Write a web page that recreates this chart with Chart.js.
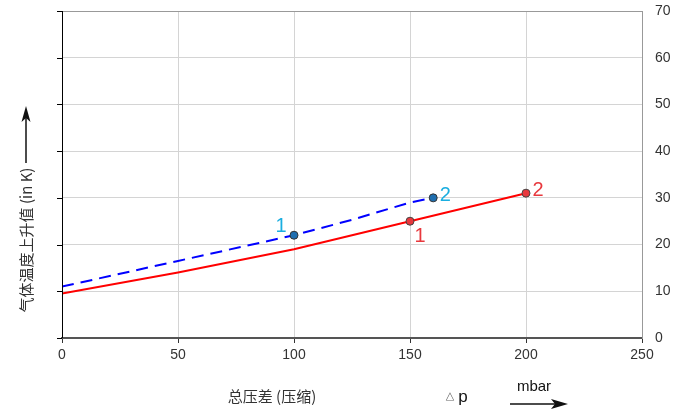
<!DOCTYPE html>
<html>
<head>
<meta charset="utf-8">
<script src="https://cdn.jsdelivr.net/npm/chart.js@4/dist/chart.umd.min.js"></script>
<style>
  html, body { margin: 0; padding: 0; background: #fff; }
  #wrap { width: 685px; height: 417px; position: relative; }
</style>
</head>
<body>
<div id="wrap"><canvas id="canvas"></canvas></div>
<script>
'use strict';

// pressure difference (mbar) and temperature rise (K)
const redX = [0, 50, 100, 150, 200];
const redY = [9.5, 14, 19, 25, 31];
const redMarked = [150, 200];

const blueX = [0, 50, 100, 125, 150, 160];
const blueY = [11, 16.5, 22, 25.3, 29, 30];
const blueMarked = [100, 160];

const xTicks = [0, 50, 100, 150, 200, 250];
const yTicks = [0, 10, 20, 30, 40, 50, 60, 70];

const toPoints = (xs, ys) => xs.map((x, i) => ({ x: x, y: ys[i] }));
const radii = (xs, marked) => xs.map(x => (marked.includes(x) ? 4 : 0));

// point numbers, placed next to marked points
const pointLabels = [
  { x: 150, y: 25, text: '1', color: '#e8383d', dx: 10, dy: 15 },
  { x: 200, y: 31, text: '2', color: '#e8383d', dx: 12, dy: -3 },
  { x: 100, y: 22, text: '1', color: '#1aaee0', dx: -13, dy: -9 },
  { x: 160, y: 30, text: '2', color: '#1aaee0', dx: 12, dy: -2 },
];

const extras = {
  id: 'extras',
  afterDatasetsDraw(chart) {
    const ctx = chart.ctx;
    const xs = chart.scales.x;
    const ys = chart.scales.y;
    const a = chart.chartArea;
    ctx.save();
    // numbers beside points
    ctx.font = '20px "Liberation Sans", Arial, sans-serif';
    ctx.textAlign = 'center';
    ctx.textBaseline = 'middle';
    pointLabels.forEach(l => {
      ctx.fillStyle = l.color;
      ctx.fillText(l.text, xs.getPixelForValue(l.x) + l.dx, ys.getPixelForValue(l.y) + l.dy);
    });
    // top border
    ctx.strokeStyle = '#999';
    ctx.lineWidth = 1;
    ctx.beginPath();
    ctx.moveTo(a.left, a.top + 0.5);
    ctx.lineTo(a.right, a.top + 0.5);
    ctx.stroke();
    // left axis with outward ticks
    ctx.strokeStyle = '#000';
    ctx.beginPath();
    ctx.moveTo(a.left + 0.5, a.top);
    ctx.lineTo(a.left + 0.5, a.bottom);
    yTicks.forEach(v => {
      const py = Math.round(ys.getPixelForValue(v)) + 0.5;
      ctx.moveTo(a.left - 5, py);
      ctx.lineTo(a.left, py);
    });
    ctx.stroke();
    ctx.restore();
  },
  afterDraw(chart) {
    const ctx = chart.ctx;
    ctx.save();
    ctx.fillStyle = '#333';
    ctx.textBaseline = 'middle';
    // y title, rotated
    ctx.save();
    ctx.translate(26, 240);
    ctx.rotate(-Math.PI / 2);
    ctx.font = '15px "Noto Sans CJK SC", sans-serif';
    ctx.textAlign = 'center';
    ctx.fillText('气体温度上升值 (in K)', 0, 0);
    ctx.restore();
    // y arrow
    ctx.strokeStyle = '#111';
    ctx.fillStyle = '#111';
    ctx.lineWidth = 1.5;
    ctx.beginPath();
    ctx.moveTo(26, 163);
    ctx.lineTo(26, 112);
    ctx.stroke();
    ctx.beginPath();
    ctx.moveTo(26, 106);
    ctx.lineTo(21.5, 122);
    ctx.lineTo(26, 118);
    ctx.lineTo(30.5, 122);
    ctx.closePath();
    ctx.fill();
    // x title
    ctx.fillStyle = '#333';
    ctx.textAlign = 'center';
    ctx.font = '15px "Noto Sans CJK SC", sans-serif';
    ctx.fillText('总压差 (压缩)', 272, 396);
    ctx.font = '11px "DejaVu Sans", sans-serif';
    ctx.fillStyle = '#666';
    ctx.fillText('△', 450, 396);
    ctx.fillStyle = '#111';
    ctx.font = '17px "Liberation Sans", Arial, sans-serif';
    ctx.fillText('p', 463, 397);
    ctx.font = '15px "Liberation Sans", Arial, sans-serif';
    ctx.fillText('mbar', 534, 387);
    // x arrow
    ctx.lineWidth = 1.5;
    ctx.beginPath();
    ctx.moveTo(510, 404);
    ctx.lineTo(556, 404);
    ctx.stroke();
    ctx.beginPath();
    ctx.moveTo(568, 404);
    ctx.lineTo(551, 399);
    ctx.lineTo(555, 404);
    ctx.lineTo(551, 409);
    ctx.closePath();
    ctx.fill();
    ctx.restore();
  },
};

const chart = new Chart(document.getElementById('canvas').getContext('2d'), {
  type: 'line',
  data: {
    datasets: [
      {
        label: 'red',
        data: toPoints(redX, redY),
        borderColor: '#ff0000',
        borderWidth: 2,
        pointRadius: radii(redX, redMarked),
        pointBackgroundColor: '#e8383d',
        pointBorderColor: '#444',
        pointBorderWidth: 1,
        tension: 0,
      },
      {
        label: 'blue',
        data: toPoints(blueX, blueY),
        borderColor: '#0000ff',
        borderWidth: 2,
        borderDash: [12, 7],
        pointRadius: radii(blueX, blueMarked),
        pointBackgroundColor: '#1f6fb0',
        pointBorderColor: '#333',
        pointBorderWidth: 1,
        tension: 0,
      },
    ],
  },
  options: {
    responsive: true,
    maintainAspectRatio: false,
    animation: false,
    layout: { padding: { left: 62, top: 11, right: 0, bottom: 0 } },
    plugins: {
      legend: { display: false },
      tooltip: { enabled: false },
    },
    scales: {
      x: {
        type: 'linear',
        min: 0,
        max: 250,
        afterBuildTicks: s => { s.ticks = xTicks.map(v => ({ value: v })); },
        grid: { color: '#d4d4d4', tickColor: '#333', tickLength: 5 },
        border: { color: '#555', width: 2 },
        ticks: {
          padding: 4,
          color: '#333',
          font: { size: 14, family: '"Liberation Sans", Arial, sans-serif' },
        },
        afterFit: s => { s.height = 79; s.paddingLeft = 0; s.paddingRight = 0; },
      },
      y: {
        position: 'right',
        min: 0,
        max: 70,
        afterBuildTicks: s => { s.ticks = yTicks.map(v => ({ value: v })); },
        grid: { color: '#d4d4d4', drawTicks: false },
        border: { color: '#999', width: 1 },
        ticks: {
          padding: 13,
          color: '#333',
          font: { size: 14, family: '"Liberation Sans", Arial, sans-serif' },
        },
        afterFit: s => { s.width = 43; s.paddingTop = 0; s.paddingBottom = 0; },
      },
    },
  },
  plugins: [extras],
});
</script>
</body>
</html>
